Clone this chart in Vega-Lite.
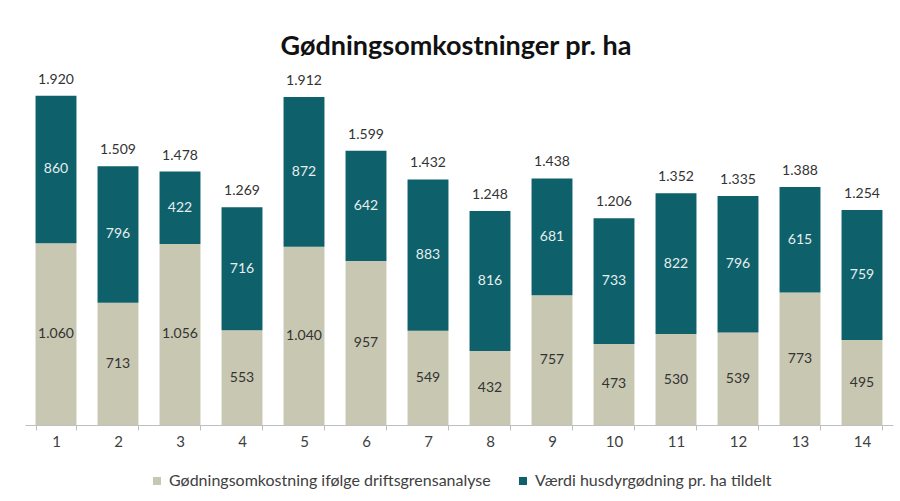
{
  "$schema": "https://vega.github.io/schema/vega-lite/v6.json",
  "autosize": "none",
  "width": 868,
  "height": 355,
  "padding": {"left": 25, "top": 70, "right": 7, "bottom": 76},
  "background": "#ffffff",
  "title": {
    "text": "Gødningsomkostninger pr. ha",
    "font": "Lato",
    "fontSize": 27,
    "fontWeight": "bold",
    "color": "#111111",
    "anchor": "middle",
    "offset": 9,
    "dx": -3
  },
  "config": {
    "locale": {"number": {"decimal": ",", "thousands": ".", "grouping": [3], "currency": ["", " kr."]}},
    "view": {"stroke": null},
    "font": "Lato"
  },
  "data": {
    "values": [
      {"bar": 1, "serie": "Gødningsomkostning ifølge driftsgrensanalyse", "ord": 1, "value": 1060},
      {"bar": 1, "serie": "Værdi husdyrgødning pr. ha tildelt", "ord": 2, "value": 860},
      {"bar": 2, "serie": "Gødningsomkostning ifølge driftsgrensanalyse", "ord": 1, "value": 713},
      {"bar": 2, "serie": "Værdi husdyrgødning pr. ha tildelt", "ord": 2, "value": 796},
      {"bar": 3, "serie": "Gødningsomkostning ifølge driftsgrensanalyse", "ord": 1, "value": 1056},
      {"bar": 3, "serie": "Værdi husdyrgødning pr. ha tildelt", "ord": 2, "value": 422},
      {"bar": 4, "serie": "Gødningsomkostning ifølge driftsgrensanalyse", "ord": 1, "value": 553},
      {"bar": 4, "serie": "Værdi husdyrgødning pr. ha tildelt", "ord": 2, "value": 716},
      {"bar": 5, "serie": "Gødningsomkostning ifølge driftsgrensanalyse", "ord": 1, "value": 1040},
      {"bar": 5, "serie": "Værdi husdyrgødning pr. ha tildelt", "ord": 2, "value": 872},
      {"bar": 6, "serie": "Gødningsomkostning ifølge driftsgrensanalyse", "ord": 1, "value": 957},
      {"bar": 6, "serie": "Værdi husdyrgødning pr. ha tildelt", "ord": 2, "value": 642},
      {"bar": 7, "serie": "Gødningsomkostning ifølge driftsgrensanalyse", "ord": 1, "value": 549},
      {"bar": 7, "serie": "Værdi husdyrgødning pr. ha tildelt", "ord": 2, "value": 883},
      {"bar": 8, "serie": "Gødningsomkostning ifølge driftsgrensanalyse", "ord": 1, "value": 432},
      {"bar": 8, "serie": "Værdi husdyrgødning pr. ha tildelt", "ord": 2, "value": 816},
      {"bar": 9, "serie": "Gødningsomkostning ifølge driftsgrensanalyse", "ord": 1, "value": 757},
      {"bar": 9, "serie": "Værdi husdyrgødning pr. ha tildelt", "ord": 2, "value": 681},
      {"bar": 10, "serie": "Gødningsomkostning ifølge driftsgrensanalyse", "ord": 1, "value": 473},
      {"bar": 10, "serie": "Værdi husdyrgødning pr. ha tildelt", "ord": 2, "value": 733},
      {"bar": 11, "serie": "Gødningsomkostning ifølge driftsgrensanalyse", "ord": 1, "value": 530},
      {"bar": 11, "serie": "Værdi husdyrgødning pr. ha tildelt", "ord": 2, "value": 822},
      {"bar": 12, "serie": "Gødningsomkostning ifølge driftsgrensanalyse", "ord": 1, "value": 539},
      {"bar": 12, "serie": "Værdi husdyrgødning pr. ha tildelt", "ord": 2, "value": 796},
      {"bar": 13, "serie": "Gødningsomkostning ifølge driftsgrensanalyse", "ord": 1, "value": 773},
      {"bar": 13, "serie": "Værdi husdyrgødning pr. ha tildelt", "ord": 2, "value": 615},
      {"bar": 14, "serie": "Gødningsomkostning ifølge driftsgrensanalyse", "ord": 1, "value": 495},
      {"bar": 14, "serie": "Værdi husdyrgødning pr. ha tildelt", "ord": 2, "value": 759}
    ]
  },
  "transform": [
    {"stack": "value", "groupby": ["bar"], "sort": [{"field": "ord", "order": "ascending"}], "as": ["y0", "y1"]},
    {"calculate": "(datum.y0 + datum.y1) / 2", "as": "mid"}
  ],
  "encoding": {
    "x": {
      "field": "bar",
      "type": "ordinal",
      "title": null,
      "scale": {"paddingInner": 0.34, "paddingOuter": 0.17},
      "axis": {
        "labelAngle": 0,
        "labelFontSize": 15,
        "labelColor": "#404040",
        "labelPadding": 4,
        "domainColor": "#BFBFBF",
        "tickColor": "#BFBFBF",
        "tickSize": 5,
        "tickBand": "extent"
      }
    }
  },
  "layer": [
    {
      "mark": {"type": "bar"},
      "encoding": {
        "y": {"field": "y1", "type": "quantitative", "scale": {"domain": [0, 2070], "nice": false}, "axis": null},
        "y2": {"field": "y0"},
        "color": {
          "field": "serie",
          "type": "nominal",
          "scale": {
            "domain": ["Gødningsomkostning ifølge driftsgrensanalyse", "Værdi husdyrgødning pr. ha tildelt"],
            "range": ["#C8C7B2", "#0E606B"]
          },
          "legend": {
            "title": null,
            "orient": "none",
            "direction": "horizontal",
            "legendX": 124,
            "legendY": 403,
            "symbolType": "square",
            "symbolSize": 64,
            "symbolStrokeWidth": 0,
            "labelFontSize": 16,
            "labelColor": "#404040",
            "labelOffset": 4,
            "labelLimit": 0,
            "columnPadding": 24
          }
        }
      }
    },
    {
      "mark": {"type": "text", "fontSize": 14, "baseline": "middle"},
      "encoding": {
        "y": {"field": "mid", "type": "quantitative"},
        "text": {"field": "value", "type": "quantitative", "format": ",d"},
        "color": {"condition": {"test": "datum.ord === 2", "value": "#E6EEEE"}, "value": "#333333"}
      }
    },
    {
      "transform": [{"aggregate": [{"op": "sum", "field": "value", "as": "total"}], "groupby": ["bar"]}],
      "mark": {"type": "text", "fontSize": 14, "baseline": "bottom", "dy": -9, "color": "#333333"},
      "encoding": {
        "y": {"field": "total", "type": "quantitative"},
        "text": {"field": "total", "type": "quantitative", "format": ",d"}
      }
    }
  ]
}
